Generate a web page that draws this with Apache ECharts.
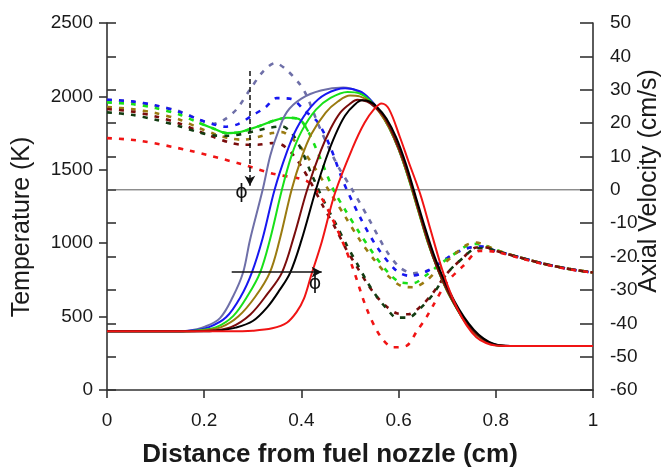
<!DOCTYPE html>
<html>
<head>
<meta charset="utf-8">
<script src="https://cdn.jsdelivr.net/npm/echarts@6/dist/echarts.min.js"></script>
<style>
  html, body { margin: 0; padding: 0; background: #fff; }
  #chart { width: 664px; height: 468px; }
</style>
</head>
<body>
<div id="chart"></div>
<script>
// Temperature profiles (K) along the axis, one per equivalence ratio
const tempSlate = [[0,400],[0.14,400],[0.17,406],[0.2,430],[0.2325,490],[0.259,635],[0.28,800],[0.294,1019],[0.32,1360],[0.336,1598],[0.35,1740],[0.37,1893],[0.40,1985],[0.44,2040],[0.486,2060],[0.52,2030],[0.54,1980],[0.56,1900],[0.58,1790],[0.60,1640],[0.62,1450],[0.64,1230],[0.66,1010],[0.68,830],[0.70,680],[0.72,560],[0.74,455],[0.76,385],[0.78,335],[0.80,308],[0.83,300],[1,300]];
const tempBlue = [[0,400],[0.15,400],[0.18,407],[0.21,428],[0.245,495],[0.275,635],[0.298,800],[0.32,1030],[0.345,1366],[0.37,1620],[0.39,1780],[0.42,1930],[0.45,2015],[0.49,2055],[0.52,2035],[0.54,1985],[0.56,1905],[0.58,1795],[0.60,1645],[0.62,1455],[0.64,1235],[0.66,1015],[0.68,830],[0.70,675],[0.72,555],[0.74,450],[0.76,380],[0.78,332],[0.80,306],[0.83,300],[1,300]];
const tempGreen = [[0,400],[0.16,400],[0.19,407],[0.225,428],[0.26,505],[0.29,645],[0.315,800],[0.335,1020],[0.36,1366],[0.38,1600],[0.40,1760],[0.43,1910],[0.46,1990],[0.495,2030],[0.52,2020],[0.54,1975],[0.56,1900],[0.58,1790],[0.60,1640],[0.62,1445],[0.64,1225],[0.66,1005],[0.68,825],[0.70,672],[0.72,552],[0.74,448],[0.76,378],[0.78,330],[0.80,305],[0.83,300],[1,300]];
const tempOlive = [[0,400],[0.17,400],[0.2,407],[0.235,428],[0.27,500],[0.305,635],[0.335,800],[0.355,1020],[0.38,1366],[0.40,1580],[0.42,1740],[0.45,1890],[0.475,1965],[0.50,2006],[0.52,2000],[0.54,1965],[0.56,1895],[0.58,1790],[0.60,1640],[0.62,1450],[0.64,1230],[0.66,1010],[0.68,828],[0.70,676],[0.72,556],[0.74,452],[0.76,382],[0.78,333],[0.80,306],[0.83,300],[1,300]];
const tempMaroon = [[0,400],[0.18,400],[0.22,407],[0.255,428],[0.295,515],[0.33,655],[0.36,800],[0.385,1050],[0.412,1366],[0.44,1630],[0.46,1780],[0.48,1890],[0.50,1950],[0.515,1978],[0.535,1965],[0.55,1930],[0.57,1860],[0.59,1730],[0.61,1560],[0.63,1350],[0.65,1125],[0.67,915],[0.69,750],[0.71,615],[0.73,500],[0.75,415],[0.77,355],[0.79,318],[0.81,303],[0.84,300],[1,300]];
const tempBlack = [[0,400],[0.19,400],[0.23,406],[0.265,425],[0.30,470],[0.33,565],[0.355,680],[0.377,800],[0.40,1019],[0.43,1366],[0.45,1570],[0.47,1740],[0.49,1870],[0.51,1945],[0.525,1973],[0.54,1965],[0.555,1930],[0.575,1850],[0.595,1720],[0.615,1540],[0.635,1320],[0.655,1100],[0.675,900],[0.695,740],[0.715,605],[0.735,495],[0.755,410],[0.775,350],[0.795,315],[0.815,302],[0.84,300],[1,300]];
const tempRed = [[0,400],[0.25,400],[0.3,404],[0.34,420],[0.37,458],[0.39,530],[0.405,620],[0.42,780],[0.442,1010],[0.469,1340],[0.506,1654],[0.53,1820],[0.55,1915],[0.565,1952],[0.58,1915],[0.603,1720],[0.62,1560],[0.644,1340],[0.665,1100],[0.685,870],[0.70,720],[0.72,560],[0.74,440],[0.76,360],[0.78,320],[0.80,303],[0.83,300],[1,300]];

// Axial velocity profiles (cm/s), same cases
const velSlate = [[0,27],[0.05,26.5],[0.1,25.3],[0.15,23.5],[0.19,21],[0.22,19.8],[0.243,21.2],[0.267,24.2],[0.294,30],[0.322,35.6],[0.346,38],[0.372,35.6],[0.397,31.6],[0.41,28.5],[0.438,18.5],[0.473,7.7],[0.506,-0.3],[0.541,-9.3],[0.575,-18.3],[0.603,-23.3],[0.63,-25],[0.66,-24.2],[0.69,-21.5],[0.72,-18.8],[0.75,-17.2],[0.77,-17],[0.8,-18.3],[0.85,-20.3],[0.9,-22.2],[0.95,-23.7],[1,-24.8]];
const velBlue = [[0,27],[0.05,26.5],[0.1,25.3],[0.15,23.3],[0.19,21],[0.22,19.6],[0.243,18.9],[0.27,19.7],[0.298,22.2],[0.325,24.6],[0.349,27.5],[0.38,27.2],[0.407,23.7],[0.434,20.2],[0.459,13],[0.486,2.5],[0.52,-8],[0.555,-17],[0.596,-24.3],[0.623,-25.8],[0.65,-25],[0.68,-22.5],[0.71,-19.5],[0.74,-17.5],[0.77,-17],[0.8,-18.3],[0.85,-20.3],[0.9,-22.2],[0.95,-23.7],[1,-24.8]];
const velGreen = [[0,26.2],[0.05,25.7],[0.1,24.5],[0.15,22.5],[0.19,20],[0.22,18.3],[0.246,17],[0.27,17.2],[0.315,19.2],[0.345,20.8],[0.37,21.6],[0.395,21.2],[0.414,17.5],[0.44,9],[0.466,0],[0.49,-6],[0.52,-13],[0.55,-19.5],[0.58,-25],[0.605,-27.8],[0.63,-28],[0.655,-25.8],[0.685,-22.3],[0.712,-19.5],[0.74,-16.8],[0.76,-16.2],[0.78,-16.8],[0.8,-18],[0.85,-20.3],[0.9,-22.2],[0.95,-23.7],[1,-24.8]];
const velOlive = [[0,24.8],[0.05,24.2],[0.1,23],[0.15,21],[0.19,18.5],[0.22,16.8],[0.25,15.5],[0.28,15],[0.31,15.8],[0.34,17],[0.36,17.3],[0.38,15.5],[0.40,12.5],[0.43,6],[0.46,-1],[0.49,-8],[0.52,-15],[0.55,-21],[0.58,-26],[0.605,-28.8],[0.63,-29.2],[0.655,-27.5],[0.68,-24],[0.71,-20],[0.74,-16.5],[0.76,-15.8],[0.78,-16.7],[0.8,-18],[0.85,-20.3],[0.9,-22.2],[0.95,-23.7],[1,-24.8]];
const velMaroon = [[0,24.2],[0.05,23.5],[0.1,22],[0.15,19.8],[0.19,17.5],[0.22,15.8],[0.25,14.3],[0.28,13.5],[0.31,13.5],[0.34,14],[0.36,13.5],[0.38,11],[0.40,7],[0.42,2],[0.445,-5],[0.47,-11.5],[0.493,-18],[0.514,-23],[0.535,-28],[0.555,-32],[0.575,-35],[0.596,-37],[0.62,-37.3],[0.645,-35],[0.67,-31],[0.70,-25],[0.733,-20.3],[0.76,-17.3],[0.78,-17.3],[0.8,-18.3],[0.85,-20.3],[0.9,-22.2],[0.95,-23.7],[1,-24.8]];
const velDarkGreen = [[0,23.2],[0.05,22.5],[0.1,21],[0.15,19],[0.19,17.2],[0.22,16.3],[0.25,16.2],[0.28,16.8],[0.31,17.8],[0.335,18.6],[0.36,19],[0.38,17],[0.40,12],[0.42,5],[0.445,-3],[0.47,-10],[0.493,-16.5],[0.514,-22],[0.535,-27.5],[0.555,-32],[0.575,-35.5],[0.596,-38.3],[0.62,-38.3],[0.645,-35.5],[0.67,-31.5],[0.70,-25],[0.733,-20.3],[0.76,-17.5],[0.78,-17.5],[0.8,-18.3],[0.85,-20.3],[0.9,-22.2],[0.95,-23.7],[1,-24.8]];
const velRed = [[0,15.5],[0.068,14.7],[0.171,11.7],[0.274,7.8],[0.342,4.8],[0.41,2.7],[0.435,-1],[0.459,-7.2],[0.486,-16],[0.506,-23.5],[0.534,-35.5],[0.562,-43.8],[0.589,-47.2],[0.617,-46.7],[0.637,-42.5],[0.658,-38],[0.671,-34.7],[0.699,-27.8],[0.733,-22.8],[0.767,-18.3],[0.8,-18.6],[0.85,-20.5],[0.9,-22.3],[0.95,-23.8],[1,-24.8]];

// Stretch of the green velocity trace that is drawn unbroken
const greenSolidRange = [0.19, 0.414];

// Zero-velocity reference line
const zeroLine = [[0,0],[1,0]];

// Direction-of-increasing-phi arrows and their labels
const phiArrowVel = [[0.294,35.6],[0.294,1.2]];      // on velocity axis
const phiArrowTemp = [[0.2566,803],[0.4418,803]];    // on temperature axis
const phiLabelVel = [0.277,-0.9];
const phiLabelTemp = [0.428,724];

const xTicks = { min: 0, max: 1, step: 0.2 };
const tTicks = { min: 0, max: 2500, step: 500 };
const vTicks = { min: -60, max: 50, step: 10 };

const tempCases = [
  { color: '#6E6FA8', data: tempSlate },
  { color: '#1717F0', data: tempBlue },
  { color: '#18E018', data: tempGreen },
  { color: '#9A7A10', data: tempOlive },
  { color: '#7A0C0C', data: tempMaroon },
  { color: '#000000', data: tempBlack },
  { color: '#F01414', data: tempRed }
];
const velCases = [
  { color: '#6E6FA8', data: velSlate },
  { color: '#1717F0', data: velBlue },
  { color: '#18E018', data: velGreen },
  { color: '#9A7A10', data: velOlive },
  { color: '#7A0C0C', data: velMaroon },
  { color: '#123D12', data: velDarkGreen },
  { color: '#F01414', data: velRed }
];

const FONT = '"Liberation Sans", Arial, sans-serif';
const chart = echarts.init(document.getElementById('chart'), null, { renderer: 'canvas' });

const series = [];
series.push({
  type: 'line', yAxisIndex: 1, data: zeroLine, symbol: 'none', silent: true, z: 1,
  lineStyle: { color: '#5a5a5a', width: 1 }
});
velCases.forEach(c => series.push({
  type: 'line', yAxisIndex: 1, data: c.data, symbol: 'none', smooth: 0.3, z: 2,
  lineStyle: { color: c.color, width: 2.6, type: [5, 7] }
}));
series.push({
  type: 'line', yAxisIndex: 1, symbol: 'none', smooth: 0.3, z: 2,
  data: velGreen.filter(p => p[0] >= greenSolidRange[0] && p[0] <= greenSolidRange[1]),
  lineStyle: { color: '#18E018', width: 2.2 }
});
tempCases.forEach(c => series.push({
  type: 'line', yAxisIndex: 0, data: c.data, symbol: 'none', smooth: 0.35, z: 3,
  lineStyle: { color: c.color, width: 2 }
}));

// Arrows and phi labels
const phiLabel = { show: true, position: 'inside', formatter: 'ϕ', color: '#111', fontSize: 19, fontFamily: '"DejaVu Sans", sans-serif' };
series.push({
  type: 'line', yAxisIndex: 1, data: [], z: 5,
  markLine: {
    silent: true, symbol: ['none', 'arrow'], symbolSize: [8, 10], animation: false,
    label: { show: false },
    lineStyle: { color: '#111', width: 1.5, type: [5, 3] },
    data: [[{ coord: phiArrowVel[0] }, { coord: phiArrowVel[1] }]]
  },
  markPoint: {
    symbol: 'circle', symbolSize: 1, itemStyle: { color: 'rgba(0,0,0,0)' }, animation: false,
    label: phiLabel,
    data: [{ coord: phiLabelVel }]
  }
});
series.push({
  type: 'line', yAxisIndex: 0, data: [], z: 5,
  markLine: {
    silent: true, symbol: ['none', 'arrow'], symbolSize: [8, 10], animation: false,
    label: { show: false },
    lineStyle: { color: '#111', width: 1.5, type: 'solid' },
    data: [[{ coord: phiArrowTemp[0] }, { coord: phiArrowTemp[1] }]]
  },
  markPoint: {
    symbol: 'circle', symbolSize: 1, itemStyle: { color: 'rgba(0,0,0,0)' }, animation: false,
    label: phiLabel,
    data: [{ coord: phiLabelTemp }]
  }
});

const axisLine = { show: true, onZero: false, lineStyle: { color: '#333', width: 1.6 } };
const labelStyle = { color: '#1a1a1a', fontSize: 19, fontFamily: FONT, formatter: v => String(v) };

chart.setOption({
  animation: false,
  backgroundColor: '#fff',
  grid: { left: 107, right: 71, top: 23, bottom: 78 },
  xAxis: {
    type: 'value', min: xTicks.min, max: xTicks.max, interval: xTicks.step,
    axisLine: axisLine,
    axisTick: { show: true, inside: false, length: 8, lineStyle: { color: '#333', width: 1.6 } },
    axisLabel: Object.assign({ margin: 21 }, labelStyle),
    splitLine: { show: false }
  },
  yAxis: [
    {
      type: 'value', position: 'left', min: tTicks.min, max: tTicks.max, interval: tTicks.step,
      axisLine: axisLine,
      axisTick: { show: true, inside: false, length: 8, lineStyle: { color: '#333', width: 1.6 } },
      axisLabel: Object.assign({ margin: 14 }, labelStyle),
      splitLine: { show: false }
    },
    {
      type: 'value', position: 'right', min: vTicks.min, max: vTicks.max, interval: vTicks.step,
      axisLine: axisLine,
      axisTick: { show: true, inside: true, length: 13, lineStyle: { color: '#333', width: 1.6 } },
      axisLabel: Object.assign({ margin: 17 }, labelStyle),
      splitLine: { show: false }
    },
    {
      type: 'value', position: 'right', min: vTicks.min, max: vTicks.max, interval: vTicks.step,
      axisLine: { show: false },
      axisTick: { show: true, inside: false, length: 9, lineStyle: { color: '#333', width: 1.6 } },
      axisLabel: { show: false },
      splitLine: { show: false }
    }
  ],
  graphic: [
    {
      type: 'text', x: 330, y: 455, silent: true,
      style: { text: 'Distance from fuel nozzle (cm)', font: 'bold 26px ' + FONT, fill: '#1a1a1a', textAlign: 'center', textVerticalAlign: 'middle' }
    },
    {
      type: 'text', x: 22, y: 227, rotation: Math.PI / 2, silent: true,
      style: { text: 'Temperature (K)', font: '25px ' + FONT, fill: '#1a1a1a', textAlign: 'center', textVerticalAlign: 'middle' }
    },
    {
      type: 'text', x: 649, y: 181, rotation: Math.PI / 2, silent: true,
      style: { text: 'Axial Velocity (cm/s)', font: '25px ' + FONT, fill: '#1a1a1a', textAlign: 'center', textVerticalAlign: 'middle' }
    }
  ],
  series: series
});
</script>
</body>
</html>
